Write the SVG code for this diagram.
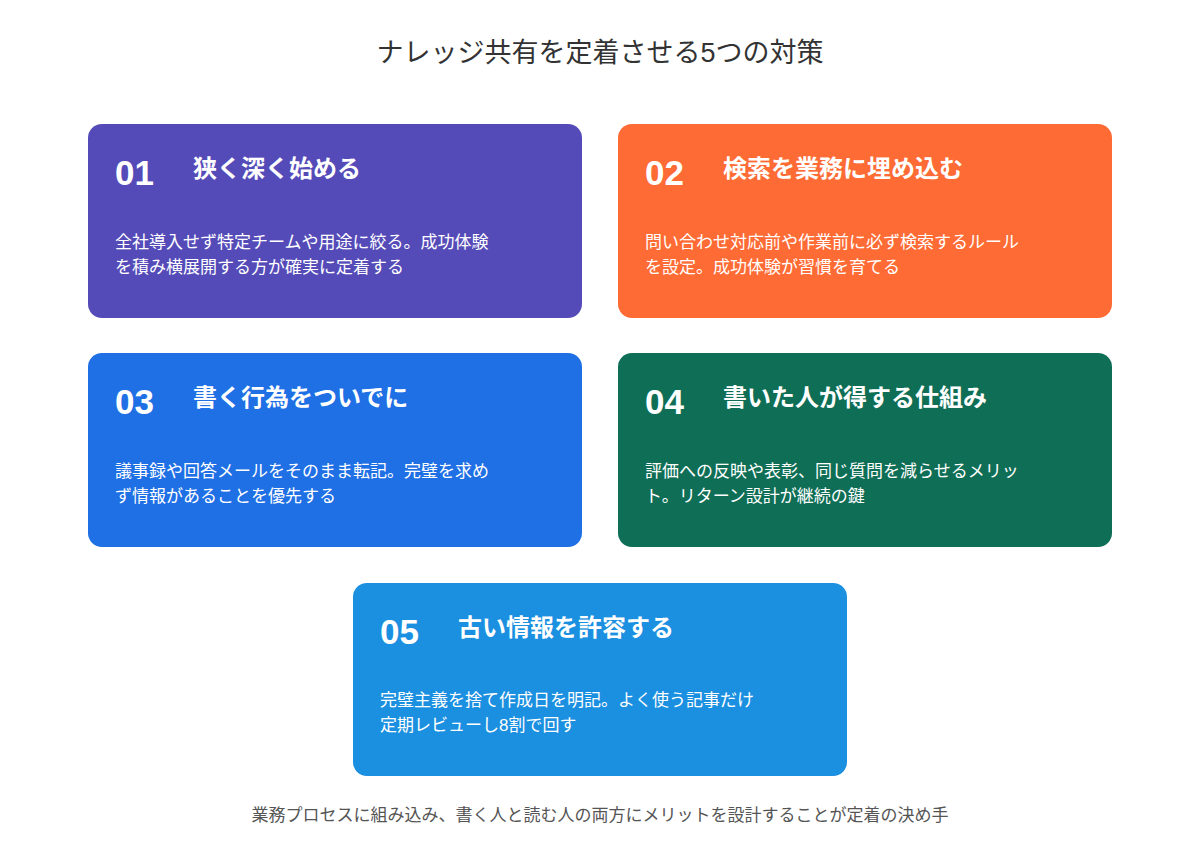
<svg xmlns="http://www.w3.org/2000/svg" width="1200" height="865" viewBox="0 0 1200 865">
<style>
text{font-family:"Liberation Sans","Noto Sans CJK JP",sans-serif}
.num{font-size:35px;font-weight:bold;fill:#fff}
.tt{font-size:24px;font-weight:bold;fill:#fff}
.d{font-size:17px;fill:#fff}
</style>
<rect width="1200" height="865" fill="#fff"/>
<text x="600" y="62" text-anchor="middle" font-size="27" fill="#333">ナレッジ共有を定着させる5つの対策</text>
<g id="n1"><rect x="88" y="124" width="494" height="194" rx="14" fill="#554bb8"/>
<text x="115" y="185" class="num">01</text><text x="193" y="177" class="tt">狭く深く始める</text>
<text x="115" y="248" class="d">全社導入せず特定チームや用途に絞る。成功体験</text><text x="115" y="273" class="d">を積み横展開する方が確実に定着する</text></g>
<g id="n2"><rect x="618" y="124" width="494" height="194" rx="14" fill="#ff6b35"/>
<text x="645" y="185" class="num">02</text><text x="723" y="177" class="tt">検索を業務に埋め込む</text>
<text x="645" y="248" class="d">問い合わせ対応前や作業前に必ず検索するルール</text><text x="645" y="273" class="d">を設定。成功体験が習慣を育てる</text></g>
<g id="n3"><rect x="88" y="353" width="494" height="194" rx="14" fill="#1f6fe5"/>
<text x="115" y="414" class="num">03</text><text x="193" y="406" class="tt">書く行為をついでに</text>
<text x="115" y="477" class="d">議事録や回答メールをそのまま転記。完璧を求め</text><text x="115" y="502" class="d">ず情報があることを優先する</text></g>
<g id="n4"><rect x="618" y="353" width="494" height="194" rx="14" fill="#0f6e56"/>
<text x="645" y="414" class="num">04</text><text x="723" y="406" class="tt">書いた人が得する仕組み</text>
<text x="645" y="477" class="d">評価への反映や表彰、同じ質問を減らせるメリッ</text><text x="645" y="502" class="d">ト。リターン設計が継続の鍵</text></g>
<g id="n5"><rect x="353" y="583" width="494" height="193" rx="14" fill="#1b8fe0"/>
<text x="380" y="644" class="num">05</text><text x="458" y="636" class="tt">古い情報を許容する</text>
<text x="380" y="706" class="d">完璧主義を捨て作成日を明記。よく使う記事だけ</text><text x="380" y="731" class="d">定期レビューし8割で回す</text></g>
<g id="connectors"/>
<text x="600" y="821" text-anchor="middle" font-size="17" fill="#555">業務プロセスに組み込み、書く人と読む人の両方にメリットを設計することが定着の決め手</text>
</svg>
